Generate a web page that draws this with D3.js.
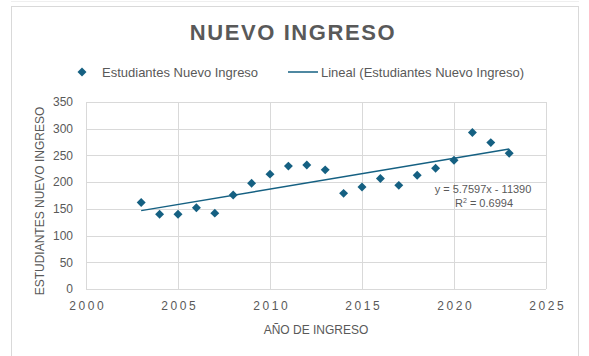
<!DOCTYPE html>
<html>
<head>
  <meta charset="utf-8">
  <title>Nuevo Ingreso</title>
  <script src="https://d3js.org/d3.v7.min.js"></script>
  <style>
    body { margin: 0; background: #fff; }
    text { font-family: "Liberation Sans", Arial, sans-serif; fill: #595959; }
    .grid line { stroke: #d9d9d9; stroke-width: 1; shape-rendering: crispEdges; }
    .axis path, .axis line { display: none; }
    .axis text { font-size: 12px; fill: #595959; }
  </style>
</head>
<body>
  <script>
    // data
    var years = [2003, 2004, 2005, 2006, 2007, 2008, 2009, 2010, 2011, 2012, 2013,
                 2014, 2015, 2016, 2017, 2018, 2019, 2020, 2021, 2022, 2023];
    var students = [162, 140, 140, 152, 142, 176, 198, 215, 230, 232, 223,
                    179, 191, 207, 194, 213, 226, 241, 293, 274, 254];
    var xTicks = [2000, 2005, 2010, 2015, 2020, 2025];
    var yTicks = [0, 50, 100, 150, 200, 250, 300, 350];
    var trendSlope = 5.7597, trendIntercept = -11390, trendR2 = 0.6994;

    var W = 589, H = 356;
    var plot = {left: 86, right: 546, top: 102, bottom: 289};
    var color = "#156082";

    var svg = d3.select("body").append("svg")
        .attr("width", W)
        .attr("height", H);

    svg.append("rect").attr("width", W).attr("height", H).attr("fill", "#fff");
    // outer frame of the chart
    svg.append("line")
        .attr("x1", 11).attr("x2", 579).attr("y1", 1.5).attr("y2", 1.5)
        .attr("stroke", "#efefef");
    svg.append("rect")
        .attr("x", 11.5).attr("y", 6.5)
        .attr("width", 567).attr("height", 352)
        .attr("fill", "none")
        .attr("stroke", "#d9d9d9");

    var x = d3.scaleLinear().domain([2000, 2025]).range([plot.left, plot.right]);
    var y = d3.scaleLinear().domain([0, 350]).range([plot.bottom, plot.top]);

    // gridlines
    var grid = svg.append("g").attr("class", "grid");
    grid.selectAll(".h").data(yTicks).enter().append("line")
        .attr("x1", plot.left).attr("x2", plot.right)
        .attr("y1", function(d) { return Math.round(y(d)) + 0.5; })
        .attr("y2", function(d) { return Math.round(y(d)) + 0.5; });
    grid.selectAll(".v").data(xTicks).enter().append("line")
        .attr("y1", plot.top).attr("y2", plot.bottom)
        .attr("x1", function(d) { return Math.round(x(d)) + 0.5; })
        .attr("x2", function(d) { return Math.round(x(d)) + 0.5; });

    // axes (labels only)
    svg.append("g")
        .attr("class", "axis y")
        .attr("transform", "translate(" + (plot.left - 6) + ",0)")
        .call(d3.axisLeft(y).tickValues(yTicks).tickSize(0).tickPadding(7).tickFormat(d3.format("d")));

    var xa = svg.append("g")
        .attr("class", "axis x")
        .attr("transform", "translate(0," + (plot.bottom + 4) + ")")
        .call(d3.axisBottom(x).tickValues(xTicks).tickSize(0).tickPadding(8).tickFormat(d3.format("d")));
    xa.selectAll("text").style("letter-spacing", "2.6px").attr("dx", "1.3px");

    // axis titles
    svg.append("text")
        .attr("x", 316).attr("y", 334)
        .attr("text-anchor", "middle")
        .style("font-size", "12px")
        .text("AÑO DE INGRESO");

    svg.append("text")
        .attr("transform", "translate(44,201) rotate(-90)")
        .attr("text-anchor", "middle")
        .style("font-size", "12px")
        .text("ESTUDIANTES NUEVO INGRESO");

    // title
    svg.append("text")
        .attr("x", 293).attr("y", 40)
        .attr("text-anchor", "middle")
        .style("font-size", "22px")
        .style("font-weight", "bold")
        .style("letter-spacing", "1.6px")
        .text("NUEVO INGRESO");

    // legend
    var diamond = d3.symbol().type(d3.symbolSquare).size(40);
    svg.append("path")
        .attr("d", diamond)
        .attr("transform", "translate(82,72) rotate(45)")
        .attr("fill", color);
    svg.append("text")
        .attr("x", 102).attr("y", 76.5)
        .style("font-size", "13px")
        .text("Estudiantes Nuevo Ingreso");
    svg.append("line")
        .attr("x1", 288).attr("x2", 318).attr("y1", 72).attr("y2", 72)
        .attr("stroke", color).attr("stroke-width", 1.5);
    svg.append("text")
        .attr("x", 321).attr("y", 76.5)
        .style("font-size", "13px")
        .text("Lineal (Estudiantes Nuevo Ingreso)");

    // trendline from the fitted equation
    var x0 = d3.min(years), x1 = d3.max(years);
    svg.append("line")
        .attr("x1", x(x0)).attr("y1", y(trendSlope * x0 + trendIntercept))
        .attr("x2", x(x1)).attr("y2", y(trendSlope * x1 + trendIntercept))
        .attr("stroke", color)
        .attr("stroke-width", 1.5);

    // points
    svg.selectAll(".pt").data(years).enter().append("path")
        .attr("d", diamond)
        .attr("transform", function(d, i) {
          return "translate(" + x(d) + "," + y(students[i]) + ") rotate(45)";
        })
        .attr("fill", color);

    // equation label
    var eq = svg.append("text")
        .attr("x", 483).attr("y", 193)
        .attr("text-anchor", "middle")
        .style("font-size", "11px");
    eq.text("y = " + trendSlope + "x - " + Math.abs(trendIntercept));
    var r2 = svg.append("text")
        .attr("x", 484).attr("y", 207)
        .attr("text-anchor", "middle")
        .style("font-size", "11px");
    r2.append("tspan").text("R");
    r2.append("tspan").attr("dy", -4).style("font-size", "7px").text("2");
    r2.append("tspan").attr("dy", 4).text(" = " + trendR2);
  </script>
</body>
</html>
